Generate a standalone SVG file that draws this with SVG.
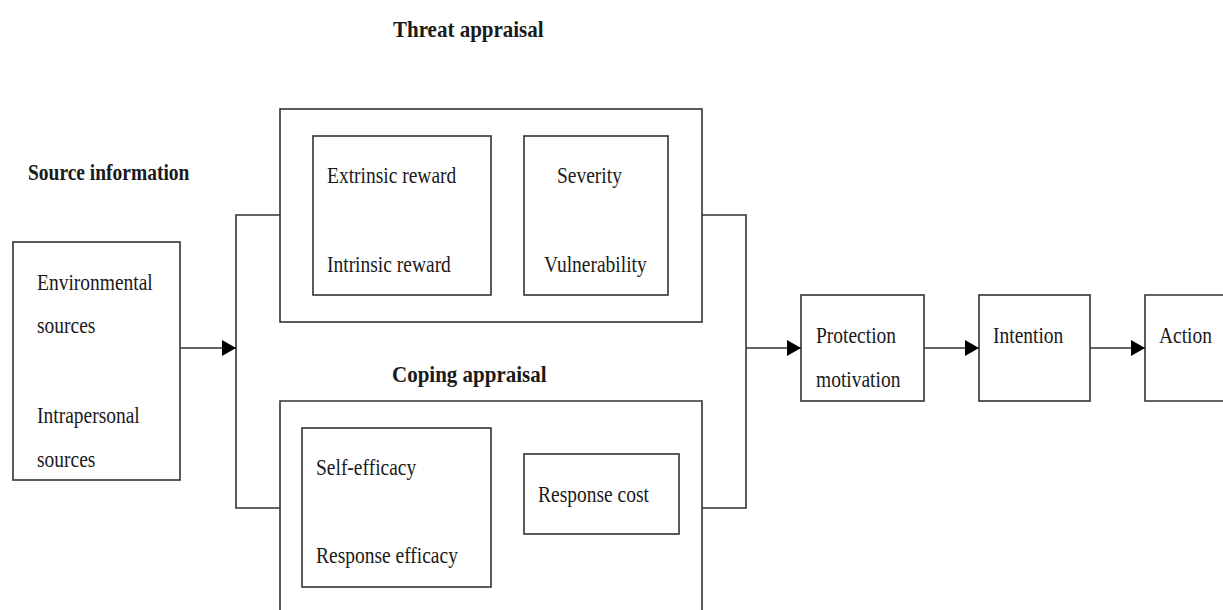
<svg xmlns="http://www.w3.org/2000/svg" width="1223" height="610" viewBox="0 0 1223 610">
<defs>
<style>
.box{fill:none;stroke:#333;stroke-width:1.6}
.ln{fill:none;stroke:#333;stroke-width:1.6}
text{font-family:"Liberation Serif","Times New Roman",serif;font-size:19.5px;fill:#1a1a1a;transform-box:fill-box;transform-origin:0 80.5%;transform:scaleY(1.14)}
.b{font-weight:bold}
.t{font-size:21px}
</style>
<marker id="ah" viewBox="0 0 14 16" refX="14" refY="8" markerWidth="14" markerHeight="16" markerUnits="userSpaceOnUse" orient="auto">
<path d="M0,0 L14,8 L0,16 Z" fill="#000"/>
</marker>
</defs>
<rect width="1223" height="610" fill="#fff"/>
<text class="b t" x="393" y="37">Threat appraisal</text>
<g id="source">
<text class="b" x="28" y="180">Source information</text>
<rect class="box" x="13" y="242" width="167" height="238"/>
<text x="37" y="290">Environmental</text>
<text x="37" y="333">sources</text>
<text x="37" y="423">Intrapersonal</text>
<text x="37" y="467">sources</text>
</g>
<g id="threat">
<rect class="box" x="280" y="109" width="422" height="213"/>
<g id="rewards">
<rect class="box" x="313" y="136" width="178" height="159"/>
<text x="327" y="183">Extrinsic reward</text>
<text x="327" y="272">Intrinsic reward</text>
</g>
<g id="severity">
<rect class="box" x="524" y="136" width="144" height="159"/>
<text x="557" y="183">Severity</text>
<text x="544" y="272">Vulnerability</text>
</g>
</g>
<g id="coping">
<text class="b t" x="392" y="382">Coping appraisal</text>
<path class="box" d="M280,615 V401 H702 V615"/>
<g id="efficacy">
<rect class="box" x="302" y="428" width="189" height="159"/>
<text x="316" y="475">Self-efficacy</text>
<text x="316" y="563">Response efficacy</text>
</g>
<g id="cost">
<rect class="box" x="524" y="454" width="155" height="80"/>
<text x="538" y="502">Response cost</text>
</g>
</g>
<g id="protection">
<rect class="box" x="801" y="295" width="123" height="106"/>
<text x="816" y="343">Protection</text>
<text x="816" y="387">motivation</text>
</g>
<g id="intention">
<rect class="box" x="979" y="295" width="111" height="106"/>
<text x="993" y="343">Intention</text>
</g>
<g id="action">
<path class="box" d="M1230,295 H1145 V401 H1230"/>
<text x="1159" y="343">Action</text>
</g>
<g id="connectors">
<path class="ln" d="M280,215 H236 V508 H280"/>
<path class="ln" d="M702,215 H746 V508 H702"/>
<path class="ln" d="M180,348 H236" marker-end="url(#ah)"/>
<path class="ln" d="M746,348 H801" marker-end="url(#ah)"/>
<path class="ln" d="M924,348 H979" marker-end="url(#ah)"/>
<path class="ln" d="M1090,348 H1145" marker-end="url(#ah)"/>
</g>
</svg>
